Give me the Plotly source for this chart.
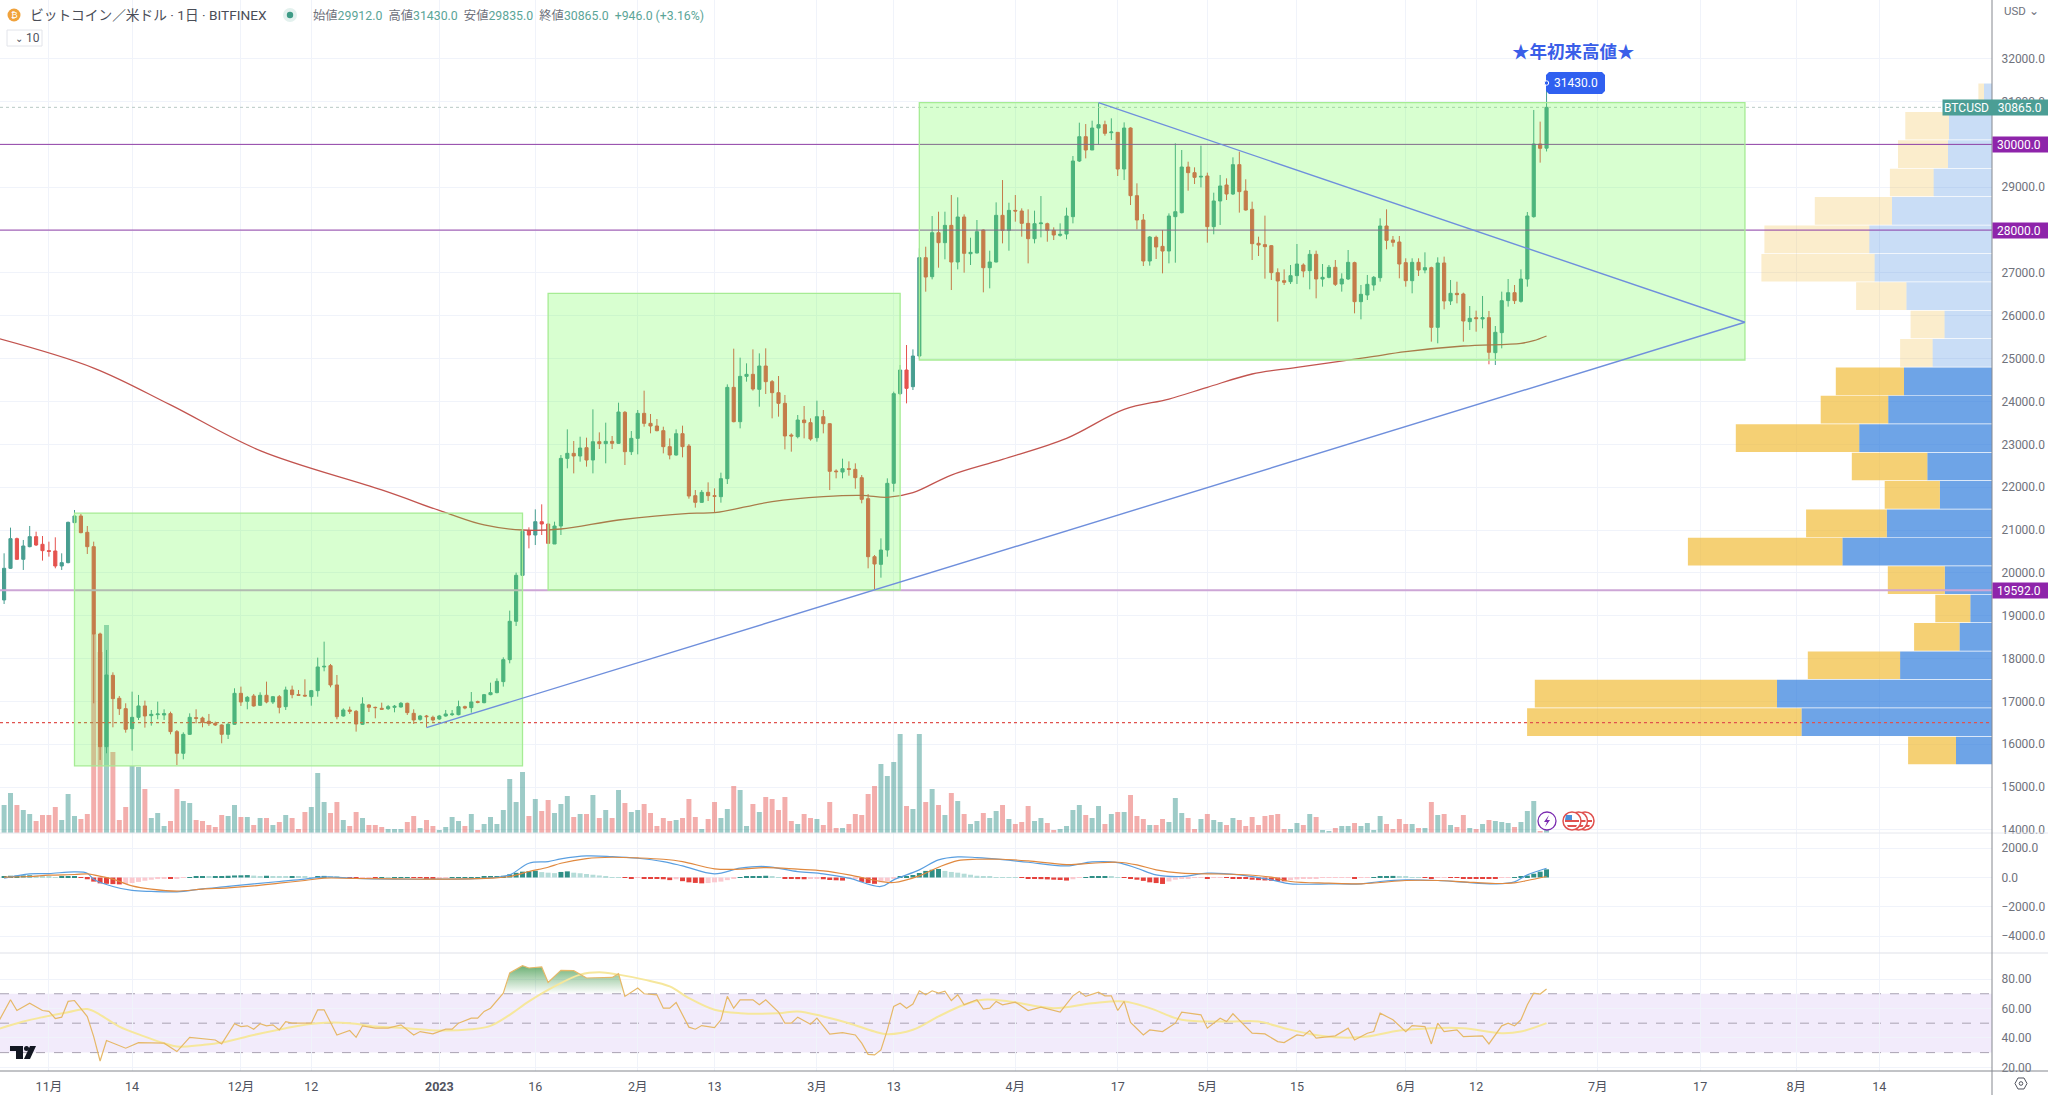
import pandas as pd
import plotly.graph_objects as go

# daily bars
dates = pd.date_range("2022-10-25", "2023-06-23")

opens = [19367,20106,20798,20316,20611,20845,20666,
20518,20510,20160,20238,21172,21327,20946,20611,18573,15943,17608,17072,16830,16363,16628,16893,16667,16690,16682,16714,16294,15788,16231,16620,16612,16535,16488,16449,16231,16465,
17188,17002,17126,16908,17142,16986,17110,16877,17266,17157,17142,17110,17250,17803,17834,17383,16659,16799,16768,16465,16916,16861,16838,16830,16861,16869,16955,16721,16581,16659,16628,
16589,16659,16690,16690,16877,16854,16994,16970,17157,17204,17461,17974,18869,19942,20976,20883,21194,21140,20673,21093,22672,22789,22727,22921,22633,23061,23015,23069,23022,23746,
22828,23139,23723,23489,23427,23318,22945,22750,23248,22960,21801,21645,21879,21801,21778,22198,24329,23528,24586,24633,24283,24827,24462,24205,23956,23217,23178,23567,23505,
23155,23645,23481,22377,22353,22431,22416,22221,21731,20377,20198,20533,22089,24182,24734,24345,25061,27356,26912,27939,27706,28110,27255,28305,27449,27465,28001,27122,27255,28344,27994,
28460,28445,28157,27799,28149,28149,27994,27877,27908,28313,29612,30180,29869,30382,30460,30273,30281,29425,30382,28803,28235,27278,27830,27620,27511,28313,28406,29472,29340,29238,
29262,28080,28679,29052,28842,29527,28912,28484,27691,27660,27636,27006,26819,26796,26936,27185,27053,27434,26858,26897,27131,26742,26858,27240,26329,26485,26718,26889,28095,27769,27722,
27240,26819,27247,27068,27123,25730,27232,26345,26524,26508,25863,25956,25925,25956,25139,25606,26353,26539,26337,26858,28313,30009,29912]

highs = [20456,21055,20822,20767,21094,20961,20860,
20728,20829,20456,21195,21467,21374,21094,20728,18604,18200,17678,17126,16955,17227,17150,17017,16799,16994,16815,16760,16332,16278,16721,16815,16644,16706,16527,16465,16504,17305,
17344,17126,17173,17212,17461,17126,17149,17344,17367,17266,17515,17266,18021,18394,17873,17616,16838,16877,16799,17095,16939,16877,16970,16916,16916,16986,16970,16815,16683,16683,16667,
16683,16799,16799,17017,16900,17219,17017,17173,17437,17538,18028,19118,20005,20985,21062,21482,21599,21155,21194,22750,23349,23077,23178,23155,23816,23279,23505,23194,23972,23777,
23310,23800,24252,23707,23590,23411,23139,23349,23435,23007,21933,21933,22112,21972,22338,24399,25232,25022,24890,25216,25123,25240,24501,24594,24151,23256,23684,23894,23606,
24018,23800,23489,22416,22665,22602,22556,22283,21840,20416,20805,22206,24228,24851,25317,25216,27574,27612,28328,28429,28429,28818,28764,28367,27822,28235,28017,27519,28647,29168,28639,
28818,28507,28484,28453,28795,28173,28064,28157,28523,29729,30507,30475,30553,30973,30553,30608,30281,30514,30398,29091,28375,27861,27869,28001,28390,30024,29869,29596,29464,29970,
29340,28873,29286,29208,29698,29830,29185,28663,27846,28337,27652,27107,27084,27185,27675,27224,27535,27520,27208,27185,27302,26991,27535,27263,26718,26952,26928,28274,28484,27862,27862,
27341,27341,27341,27481,27146,27364,27380,26835,26796,26539,26228,26119,26462,26112,25761,26563,26858,26718,27084,28422,30803,30531,31430]

lows = [19273,20090,20300,20067,20596,20627,20285,
20378,20106,20067,20222,21156,20923,20440,16955,15632,15788,16395,16683,16270,15850,16566,16387,16434,16581,16566,16231,15515,15648,16216,16488,16395,16426,16426,16021,16122,16449,
16893,16815,16877,16893,16955,16939,16721,16799,17072,17126,17110,16900,17110,17702,17328,16581,16643,16706,16294,16449,16752,16605,16799,16799,16745,16854,16683,16472,16550,16395,16527,
16566,16643,16659,16675,16815,16737,16955,16955,17142,17188,17344,17888,18760,19927,20572,20650,20883,20673,20673,20883,22439,22322,22595,22478,22322,22890,22556,22890,23007,22517,
22750,22766,23411,23256,23303,22789,22649,22735,22696,21731,21521,21638,21677,21404,21638,22073,23513,23372,24462,24252,23878,24174,23606,23645,22882,22828,23139,23139,23085,
23061,23256,21933,22206,22206,22268,21964,21622,20105,19599,19887,20377,21894,24151,23956,24267,24983,26562,26850,27122,27317,26601,27083,27006,27185,27457,26547,26640,27247,27690,27519,
28196,27846,27223,27690,27830,27729,27768,27846,27784,28157,29589,29674,29869,30001,30203,30102,29262,29168,28585,28017,27161,27169,27325,26990,27223,27239,28390,28919,29075,28997,
27706,27901,28119,28702,28819,28407,28453,27302,27395,26866,26835,25863,26718,26742,26742,26897,26617,26407,26679,26874,26695,26563,26835,26057,25917,26368,26586,26796,27551,27613,26874,
26679,26524,26928,26991,25396,25357,26150,26252,26290,25396,25668,25629,25707,24867,24851,25240,26213,26275,26306,26679,28290,29574,29835]

closes = [20106,20798,20316,20627,20845,20650,20518,
20502,20160,20238,21179,21327,20938,20611,18573,15943,17616,17064,16830,16348,16628,16893,16659,16698,16706,16714,16294,15788,16231,16628,16605,16511,16480,16449,16231,16465,17188,
16986,17095,16893,17142,16986,17110,16861,17266,17157,17142,17126,17250,17803,17818,17383,16643,16799,16768,16472,16939,16861,16854,16815,16877,16885,16955,16737,16566,16659,16643,16566,
16659,16706,16706,16877,16846,16986,16978,17157,17204,17468,17974,18869,19942,20969,20883,21194,21140,20688,21093,22672,22789,22727,22913,22633,23061,23015,23069,23022,23754,22828,
23139,23723,23489,23427,23318,22945,22750,23248,22945,21793,21645,21879,21801,21786,22198,24329,23528,24586,24633,24291,24827,24462,24205,23956,23194,23194,23567,23505,23124,
23645,23481,22369,22361,22431,22416,22221,21715,20377,20206,20533,22089,24182,24734,24306,25061,27356,26904,27939,27706,28110,27255,28305,27457,27480,27963,27122,27255,28344,27994,28460,
28445,28157,27799,28149,28165,27994,27885,27900,28328,29612,30180,29869,30382,30460,30258,30289,29425,30382,28803,28235,27278,27838,27605,27511,28328,28429,29472,29340,29231,29254,
28080,28679,29029,28842,29527,28897,28469,27683,27652,27613,27006,26812,26781,26936,27208,27045,27434,26858,26897,27131,26734,26858,27247,26329,26501,26734,26897,28095,27761,27714,27208,
26819,27247,27068,27123,25730,27232,26345,26524,26493,25878,25940,25933,25956,25147,25614,26353,26539,26353,26858,28329,30009,29908,30865]

volumes = [28,40,28,23,19,12,18,
18,26,13,39,17,14,19,199,181,208,81,13,26,67,66,44,15,20,7,12,44,32,30,13,12,8,6,18,17,28,
16,16,8,15,15,8,11,18,15,4,21,26,60,31,20,31,13,7,21,15,8,8,6,4,4,4,11,17,5,13,7,
3,6,16,12,7,19,3,9,16,9,23,54,31,61,17,34,22,33,20,29,37,16,19,19,38,15,23,15,43,30,21,
23,29,20,7,15,12,13,15,34,16,4,14,31,15,24,47,43,7,29,21,36,34,23,36,12,9,19,15,
14,8,31,5,5,9,19,18,39,47,69,57,71,99,27,24,99,31,44,28,18,40,32,19,9,12,20,15,22,28,14,
9,11,27,12,15,10,3,4,7,23,28,18,15,27,9,19,21,21,38,17,14,8,8,14,11,35,20,15,4,14,
19,13,11,8,15,13,7,16,8,17,18,19,4,4,10,8,19,16,3,2,5,7,7,10,7,10,3,17,9,4,14,
9,9,5,5,31,18,19,8,6,18,5,4,9,13,12,11,10,6,11,22,32,2,3]

# moving average on the price pane (day numbers count from 2023-01-01)
ma_days = [-69,-54,-42,-28,-9,1,7,13,19,28,39,43,52,60,66,70,74,80,88,98,107,114,120,127,134,145,151,160,169,171,173]
ma_values = [25474,24780,23920,22853,21934,21405,21117,21000,21023,21233,21389,21404,21661,21778,21809,21762,21871,22283,22649,23139,23816,24057,24330,24641,24796,25030,25162,25294,25357,25419,25528]

# MACD pane
macd_days = [-68,-64,-61,-57,-55,-54,-51,-48,-45,-41,-37,-33,-29,-25,-21,-18,-13,-7,0,8,11,14,17,19,23,27,31,35,38,43,47,51,56,60,64,69,71,75,78,81,84,88,92,98,102,106,109,112,116,120,125,130,133,139,144,147,151,156,160,165,168,170,173]
macd_line = [-45,249,272,386,295,-113,-612,-885,-953,-975,-771,-612,-431,-272,-113,45,-68,-113,-113,-23,181,975,1089,1270,1474,1429,1315,1089,794,249,635,748,408,249,-45,-612,-159,522,1202,1406,1361,1225,1043,794,1066,1021,635,181,68,295,181,-159,-431,-431,-431,-272,-159,-204,-318,-431,-295,181,635]
signal_line = [23,68,159,204,249,181,-113,-567,-794,-930,-794,-703,-567,-386,-204,-45,-68,-91,-113,-45,68,408,703,975,1293,1384,1338,1247,1089,590,567,680,567,454,181,-272,-340,113,703,1157,1247,1247,1134,885,975,1043,862,522,295,249,204,23,-272,-386,-431,-340,-204,-204,-295,-408,-363,-204,68]
hist_values = [100,120,130,140,150,130,90,
60,30,40,70,90,-20,-120,-280,-400,-430,-450,-470,-440,-380,-300,-220,-150,-90,-60,-90,-40,-10,20,40,45,40,60,90,120,140,
150,165,130,100,120,100,90,75,90,60,40,30,90,110,100,40,5,-5,-20,-10,-5,-10,5,3,3,5,10,-20,-30,-40,-50,
-40,-20,5,15,25,30,35,40,50,70,120,220,320,400,430,460,370,330,300,380,420,330,290,240,190,140,70,30,10,-30,-45,
-10,-60,-80,-100,-120,-180,-120,-250,-330,-370,-400,-380,-330,-280,-180,-50,30,70,90,100,120,60,10,-40,-70,-110,-120,-60,
-40,-120,-170,-190,-210,-100,-60,-300,-380,-430,-330,-250,-100,60,100,170,310,450,530,580,450,380,330,260,190,120,70,40,25,15,10,
5,-5,-60,-80,-110,-130,-150,-170,-210,-120,-30,30,60,90,90,50,20,-5,-90,-150,-230,-330,-380,-440,-270,-150,-90,-60,-30,-20,
-60,-20,-10,-15,-40,-60,-90,-150,-180,-200,-220,-240,-260,-180,-130,-100,-70,-50,-30,-20,-10,-8,-5,-40,-30,-10,20,60,90,110,60,
40,20,5,-5,-50,-10,-5,-20,-30,-35,-40,-45,-50,-60,-90,-30,-5,10,40,130,260,400,560]

# RSI pane
rsi_days = [-69,-67,-66,-64,-62,-61,-60,-59,-58,-57,-55,-54,-53,-52,-49,-47,-43,-41,-39,-35,-34,-32,-31,-30,-29,-28,-27,-26,-25,-24,-23,-20,-19,-18,-16,-14,-13,-12,-10,-8,-6,-4,-3,-1,1,2,3,5,6,7,8,10,11,13,14,16,17,19,21,23,27,28,29,31,32,34,35,36,37,39,40,41,43,44,45,46,47,49,50,51,53,54,55,56,
58,59,61,63,65,66,67,68,69,70,71,72,73,74,75,76,77,78,79,80,81,82,84,85,86,87,88,90,92,94,97,99,100,101,103,104,105,106,107,108,110,111,113,115,116,119,120,122,123,124,127,129,131,132,134,135,136,137,140,142,143,145,146,147,149,151,152,154,155,156,157,159,160,163,164,166,167,168,169,170,171,172,173]
rsi_values = [50.0,65.9,58.6,63.6,58.6,58.0,53.2,54.1,64.8,65.4,54.5,40.9,24.3,38.2,33.0,36.8,36.4,30.7,40.4,38.6,35.9,49.6,47.7,48.2,45.9,49.6,48.2,48.9,45.4,51.1,50.0,50.0,59.1,59.1,42.0,45.0,40.4,48.2,46.6,46.6,48.9,42.0,44.3,42.7,45.9,45.9,50.0,53.4,53.4,58.0,60.2,70.4,84.1,89.1,87.5,88.2,77.7,85.9,85.7,80.7,81.1,83.6,68.2,73.9,70.0,69.3,60.2,60.2,64.1,47.3,45.9,48.4,47.0,52.3,68.2,60.2,65.9,65.9,62.5,65.9,57.6,50.0,50.0,54.1,
49.3,53.4,42.5,43.6,42.0,36.4,28.8,28.4,31.8,45.4,61.4,63.6,60.2,63.0,72.0,69.3,72.0,70.4,71.8,65.4,69.3,62.5,65.9,59.6,60.2,64.8,62.5,64.3,58.6,60.9,57.5,68.6,71.6,68.2,71.1,68.6,68.6,58.6,64.8,50.5,42.0,45.4,44.3,50.0,57.5,55.7,46.6,53.4,51.1,56.4,43.2,42.7,37.5,36.8,42.0,41.4,45.0,39.8,41.4,46.6,38.6,43.2,44.3,56.8,52.3,44.3,48.4,47.7,35.9,50.0,44.3,45.5,40.9,41.4,35.9,48.2,50.0,48.2,52.3,62.5,70.4,69.8,73.2]
rsi_ma_days = [-69,-65,-62,-58,-55,-53,-50,-46,-43,-41,-37,-34,-29,-24,-19,-14,-10,-5,0,5,8,11,14,18,22,25,28,32,36,39,43,47,53,56,60,64,68,70,74,78,82,85,89,96,102,107,111,116,123,128,132,136,141,145,150,155,160,166,169,173]
rsi_ma_values = [45.9,51.1,54.1,57.5,59.6,55.7,47.7,40.9,36.4,34.1,35.2,36.8,42.0,46.6,50.0,50.0,47.7,46.6,45.0,45.9,48.2,55.7,64.8,75.0,83.0,84.6,83.0,79.6,75.0,67.0,59.1,56.8,56.8,58.0,54.6,50.0,44.3,42.5,45.5,54.6,62.5,65.9,64.8,60.2,63.6,64.8,60.2,52.3,51.1,51.1,46.6,42.7,40.2,40.9,45.0,46.6,46.6,43.2,44.3,50.0]

# volume profile rows on the right, bottom row first
vp_prices = [15854,16517,17180,17842,18505,19168,19831,20494,21156,21819,22482,23145,23808,24470,25133,25796,26459,27122,27784,28447,29110,29773,30436,31098]
vp_up = [36,190.5,215,91.9,32.5,21.7,47.2,149.6,105.2,52.1,64.7,132.8,103.8,88,59.4,47.5,85.6,117.4,122.7,100,58.4,44,43,8]
vp_down = [47.9,274.4,242.2,92.3,45.4,35,57,154.5,80.7,55.2,75.5,123.4,67.5,68.2,32.5,33.9,50.3,113.2,104.9,77.2,43.7,50,43.7,5.6]

# drawings
price_levels = [30000, 28000]
support_level = 19592
dotted_level = 16502
last_close = 30865
boxes = [("2022-11-05", "2023-01-14", 15497, 21395),
         ("2023-01-18", "2023-03-14", 19600, 26525),
         ("2023-03-17", "2023-07-24", 24968, 30973)]
trend_a = (["2022-12-30", "2023-07-24"], [16386, 25848])
trend_b = (["2023-04-14", "2023-07-24"], [30973, 25848])

# axis labels
price_ticks = list(range(14000, 33000, 1000))
macd_ticks = [2000, 0, -2000, -4000]
macd_labels = ["2000.0", "0.0", "\u22122000.0", "\u22124000.0"]
rsi_ticks = [80, 60, 40, 20]
rsi_labels = ["80.00", "60.00", "40.00", "20.00"]
time_ticks = ["2022-11-01","2022-11-14","2022-12-01","2022-12-12","2023-01-01","2023-01-16","2023-02-01","2023-02-13","2023-03-01","2023-03-13","2023-04-01","2023-04-17","2023-05-01","2023-05-15","2023-06-01","2023-06-12","2023-07-01","2023-07-17","2023-08-01","2023-08-14"]
time_labels = ["11月","14","12月","12","<b>2023</b>","16","2月","13","3月","13","4月","17","5月","15","6月","12","7月","17","8月","14"]

W, H = 2048, 1095
AXIS_X = 1992
FONT = "Roboto, 'Noto Sans CJK JP', sans-serif"
GRID = "#f0f3fa"
TICK_COLOR = "#6f727c"
UP = "#489e91"
DOWN = "#e5534f"


def px_x(x):
    return x / W


def px_y(y):
    return 1 - y / H


def day(n):
    return pd.Timestamp("2023-01-01") + pd.Timedelta(days=n)


def day_list(nums):
    return [day(n) for n in nums]


def px_path(points):
    return "M " + " L ".join(f"{px_x(x):.5f},{px_y(y):.5f}" for x, y in points) + " Z"


def circle(cx, cy, r, fill, line="rgba(0,0,0,0)", width=1):
    return dict(type="circle", xref="paper", yref="paper", x0=px_x(cx - r), x1=px_x(cx + r),
                y0=px_y(cy + r), y1=px_y(cy - r), fillcolor=fill, line=dict(color=line, width=width), layer="above")


def poly(points, fill):
    return dict(type="path", xref="paper", yref="paper", path=px_path(points), fillcolor=fill,
                line=dict(width=0), layer="above")


def text_at(x, y, text, size=12, color=TICK_COLOR, anchor="left"):
    return dict(xref="paper", yref="paper", x=px_x(x), y=px_y(y), text=text, showarrow=False,
                xanchor=anchor, yanchor="middle", font=dict(family=FONT, size=size, color=color))


def tag(x, y_value, text, color, width):
    return dict(xref="paper", yref="y2", x=px_x(x), y=y_value, text=text, showarrow=False,
                xanchor="left", yanchor="middle", bgcolor=color, width=width, height=13, align="left",
                font=dict(family=FONT, size=12, color="white"), borderpad=1)


vol_colors = ["rgba(38,140,130,0.45)" if c >= o else "rgba(229,83,79,0.47)" for o, c in zip(opens, closes)]

hist_colors = []
for i, v in enumerate(hist_values):
    prev = hist_values[i - 1] if i else 0
    if v >= 0:
        hist_colors.append("#2f8f86" if v >= prev else "#b5dcd8")
    else:
        hist_colors.append("#e5413c" if v <= prev else "#fbc9cf")

up_colors = ["rgba(41,121,220,0.68)" if p < 24800 else "rgba(41,121,220,0.25)" for p in vp_prices]
down_colors = ["rgba(240,185,50,0.68)" if p < 24800 else "rgba(240,185,50,0.25)" for p in vp_prices]

fig = go.Figure()

# volume is the base layer of the price pane
fig.add_trace(go.Bar(x=dates, y=volumes, marker=dict(color=vol_colors, line=dict(width=0)),
                     width=67000000, xaxis="x", yaxis="y"))
fig.add_trace(go.Candlestick(x=dates, open=opens, high=highs, low=lows, close=closes,
                             increasing=dict(line=dict(color=UP, width=1), fillcolor=UP),
                             decreasing=dict(line=dict(color=DOWN, width=1), fillcolor=DOWN),
                             xaxis="x", yaxis="y2"))
fig.add_trace(go.Scatter(x=day_list(ma_days), y=ma_values, mode="lines", line=dict(color="#c2544f", width=1.3, shape="spline"),
                         xaxis="x", yaxis="y2"))

# volume profile grows leftwards from the price axis
fig.add_trace(go.Bar(y=vp_prices, x=vp_up, orientation="h", width=645, marker=dict(color=up_colors, line=dict(width=0)),
                     xaxis="x2", yaxis="y2"))
fig.add_trace(go.Bar(y=vp_prices, x=vp_down, base=vp_up, orientation="h", width=645, marker=dict(color=down_colors, line=dict(width=0)),
                     xaxis="x2", yaxis="y2"))

fig.add_trace(go.Bar(x=dates, y=hist_values, marker=dict(color=hist_colors, line=dict(width=0)),
                     width=67000000, xaxis="x", yaxis="y3"))
fig.add_trace(go.Scatter(x=day_list(macd_days), y=macd_line, mode="lines", line=dict(color="#5a9fe0", width=1.2, shape="spline"),
                         xaxis="x", yaxis="y3"))
fig.add_trace(go.Scatter(x=day_list(macd_days), y=signal_line, mode="lines", line=dict(color="#e0893f", width=1.2, shape="spline"),
                         xaxis="x", yaxis="y3"))

# overbought shading above the 70 line
over = [(d, v) for d, v in zip(rsi_days, rsi_values) if 10 < d < 29]
over_x = [day(10.1)] + [day(d) for d, v in over] + [day(28.9)]
over_y = [70] + [max(v, 70) for d, v in over] + [70]
fig.add_trace(go.Scatter(x=over_x, y=over_y, mode="lines", line=dict(width=0), fill="toself",
                         fillgradient=dict(type="vertical", colorscale=[[0, "rgba(60,150,70,0)"], [1, "rgba(60,150,70,0.75)"]]),
                         xaxis="x", yaxis="y4"))
fig.add_trace(go.Scatter(x=day_list(rsi_ma_days), y=rsi_ma_values, mode="lines", line=dict(color="#f6e79c", width=2, shape="spline"),
                         xaxis="x", yaxis="y4"))
fig.add_trace(go.Scatter(x=day_list(rsi_days), y=rsi_values, mode="lines", line=dict(color="#e6b868", width=1.2),
                         xaxis="x", yaxis="y4"))

shapes = []

# RSI band, behind the traces
shapes.append(dict(type="rect", xref="x domain", yref="y4", x0=0, x1=1, y0=30, y1=70,
                   fillcolor="rgba(126,60,220,0.1)", line=dict(width=0), layer="below"))
for lvl in [70, 50, 30]:
    shapes.append(dict(type="line", xref="x domain", yref="y4", x0=0, x1=1, y0=lvl, y1=lvl,
                       line=dict(color="#a9a2b2", width=1, dash="dash"), layer="below"))

# horizontal levels
for lvl in price_levels:
    shapes.append(dict(type="line", xref="x domain", yref="y2", x0=0, x1=1, y0=lvl, y1=lvl,
                       line=dict(color="#8f3fa6", width=1), layer="above"))
shapes.append(dict(type="line", xref="x domain", yref="y2", x0=0, x1=1, y0=support_level, y1=support_level,
                   line=dict(color="#cda6d6", width=2), layer="above"))
shapes.append(dict(type="line", xref="x domain", yref="y2", x0=0, x1=1, y0=dotted_level, y1=dotted_level,
                   line=dict(color="#e0524e", width=1.2, dash="dot"), layer="above"))
shapes.append(dict(type="line", xref="x domain", yref="y2", x0=0, x1=1, y0=last_close, y1=last_close,
                   line=dict(color="#b9c9c5", width=1, dash="dot"), layer="above"))

# green boxes sit on top of the candles
for left, right, low, high in boxes:
    shapes.append(dict(type="rect", xref="x", yref="y2", x0=left, x1=right, y0=low, y1=high,
                       fillcolor="rgba(90,255,60,0.24)", line=dict(color="#a6ec94", width=1.3), layer="above"))

for tx, ty in [trend_a, trend_b]:
    shapes.append(dict(type="line", xref="x", yref="y2", x0=tx[0], x1=tx[1], y0=ty[0], y1=ty[1],
                       line=dict(color="#6f8fdc", width=1.4), layer="above"))

# pane frames
for y, color in [(833, "#e6e8ee"), (953, "#dfe1e8"), (1071, "#85888f")]:
    shapes.append(dict(type="line", xref="paper", yref="paper", x0=0, x1=1, y0=px_y(y), y1=px_y(y),
                       line=dict(color=color, width=1), layer="above"))
shapes.append(dict(type="line", xref="paper", yref="paper", x0=px_x(AXIS_X), x1=px_x(AXIS_X), y0=0, y1=1,
                   line=dict(color="#85888f", width=1), layer="above"))

# callout for the high
shapes.append(poly([(1549, 72), (1602, 72), (1605, 75), (1605, 91), (1602, 94), (1549, 94), (1546, 91), (1546, 75)], "#3060f0"))
shapes.append(circle(1546.5, 83, 2.2, "#3060f0", "white", 1))

# top-left symbols
shapes.append(circle(14, 15, 6.5, "#f0a23c"))
shapes.append(circle(290, 15, 7, "#e3f1ee"))
shapes.append(circle(290, 15, 3.2, "#3e9b86"))
shapes.append(dict(type="rect", xref="paper", yref="paper", x0=px_x(7), x1=px_x(42), y0=px_y(46), y1=px_y(30),
                   fillcolor="white", line=dict(color="#e2e4ea", width=1), layer="above"))

# event icons
shapes.append(circle(1547, 821, 9, "white", "#7b2cb0", 1.3))
shapes.append(poly([(1549, 815), (1544, 822), (1547, 822), (1545, 827), (1550, 820), (1547, 820)], "#7b2cb0"))
for cx in [1585, 1578.5, 1572]:
    shapes.append(circle(cx, 821, 9, "white", "#e0504e", 1.5))
    shapes.append(poly([(cx - 7, 820), (cx + 7, 820), (cx + 7, 822), (cx - 7, 822)], "#e0504e"))
    shapes.append(poly([(cx - 5, 825), (cx + 5, 825), (cx + 4, 827), (cx - 4, 827)], "#e0504e"))
shapes.append(poly([(1566, 815), (1572, 815), (1572, 820), (1565, 820)], "#4a90d9"))

# logo
shapes.append(poly([(10, 1046), (23, 1046), (23, 1059), (16, 1059), (16, 1051), (10, 1051)], "#131722"))
shapes.append(circle(26.5, 1048.5, 2.5, "#131722"))
shapes.append(poly([(30, 1046), (36, 1046), (30, 1059), (24, 1059)], "#131722"))

# settings icon on the corner
shapes.append(dict(type="path", xref="paper", yref="paper",
                   path=px_path([(2015, 1083.5), (2018, 1078), (2024, 1078), (2027, 1083.5), (2024, 1089), (2018, 1089)]),
                   fillcolor="white", line=dict(color="#50535e", width=1), layer="above"))
shapes.append(circle(2021, 1083.5, 1.8, "white", "#50535e", 1))

legend_text = ("<span style='color:#6f727c'>始値</span>29912.0  <span style='color:#6f727c'>高値</span>31430.0  "
               "<span style='color:#6f727c'>安値</span>29835.0  <span style='color:#6f727c'>終値</span>30865.0  +946.0 (+3.16%)")

annotations = [
    text_at(28, 15, "ビットコイン／米ドル · 1日 · BITFINEX", size=13.7, color="#4a4d57"),
    text_at(311, 15.5, legend_text, size=12.3, color="#5ba598"),
    text_at(14, 15, "₿", size=9, color="white", anchor="center"),
    text_at(13, 38, "⌄", size=10, color="#50535e", anchor="left"),
    text_at(24, 38, "10", size=12, color="#50535e"),
    text_at(2002, 11, "USD ⌄", size=11.5, color="#6f727c"),
    text_at(1573, 51.5, "<b>★年初来高値★</b>", size=17.5, color="#3a5ee8", anchor="center"),
    text_at(1552, 83, "31430.0", size=12, color="white"),
    tag(1941.5, last_close, "BTCUSD\u00a0\u00a0\u00a030865.0", "#4b9e95", 105),
    tag(AXIS_X, 30000, "\u00a030000.0", "#8e24aa", 55),
    tag(AXIS_X, 28000, "\u00a028000.0", "#8e24aa", 55),
    tag(AXIS_X, 19592, "\u00a019592.0", "#8e24aa", 55),
]

tick_font = dict(family=FONT, size=12, color=TICK_COLOR)
y_common = dict(side="right", anchor="x", showgrid=True, gridcolor=GRID, gridwidth=1, zeroline=False, showline=False,
                ticks="outside", ticklen=6, tickcolor="rgba(0,0,0,0)", tickfont=tick_font, fixedrange=True, automargin=False)

fig.update_layout(
    width=W, height=H,
    margin=dict(l=0, r=0, t=0, b=0, pad=0, autoexpand=False),
    paper_bgcolor="white", plot_bgcolor="white",
    showlegend=False, barmode="overlay", hovermode=False,
    xaxis=dict(domain=[0, px_x(AXIS_X)], anchor="y4", type="date", automargin=False,
               range=["2022-10-24 08:38", "2023-08-31 14:24"],
               tickvals=time_ticks, ticktext=time_labels, showgrid=True, gridcolor=GRID, gridwidth=1,
               ticks="outside", ticklen=4, tickcolor="rgba(0,0,0,0)", tickfont=dict(family=FONT, size=12.5, color="#50535e"),
               showline=False, zeroline=False, rangeslider=dict(visible=False)),
    xaxis2=dict(overlaying="x", anchor="y2", range=[AXIS_X, 0], visible=False, automargin=False),
    yaxis=dict(domain=[px_y(833), 1], anchor="x", range=[0, 833], visible=False, automargin=False),
    yaxis2=dict(domain=[px_y(833), 1], overlaying="y", range=[13928, 33370], tickvals=price_ticks,
                # the purple tags carry these two labels
                ticktext=["" if v in price_levels else f"{v}.0" for v in price_ticks], **y_common),
    yaxis3=dict(domain=[px_y(953), px_y(833)], range=[-5156, 3040], tickvals=macd_ticks, ticktext=macd_labels, **y_common),
    yaxis4=dict(domain=[px_y(1071), px_y(953)], range=[17.5, 97.7], tickvals=rsi_ticks, ticktext=rsi_labels, **y_common),
    shapes=shapes,
    annotations=annotations,
)

fig.write_html("out.html", config={"displayModeBar": False},
               post_script="document.body.style.margin='0';document.body.style.overflow='hidden';")
